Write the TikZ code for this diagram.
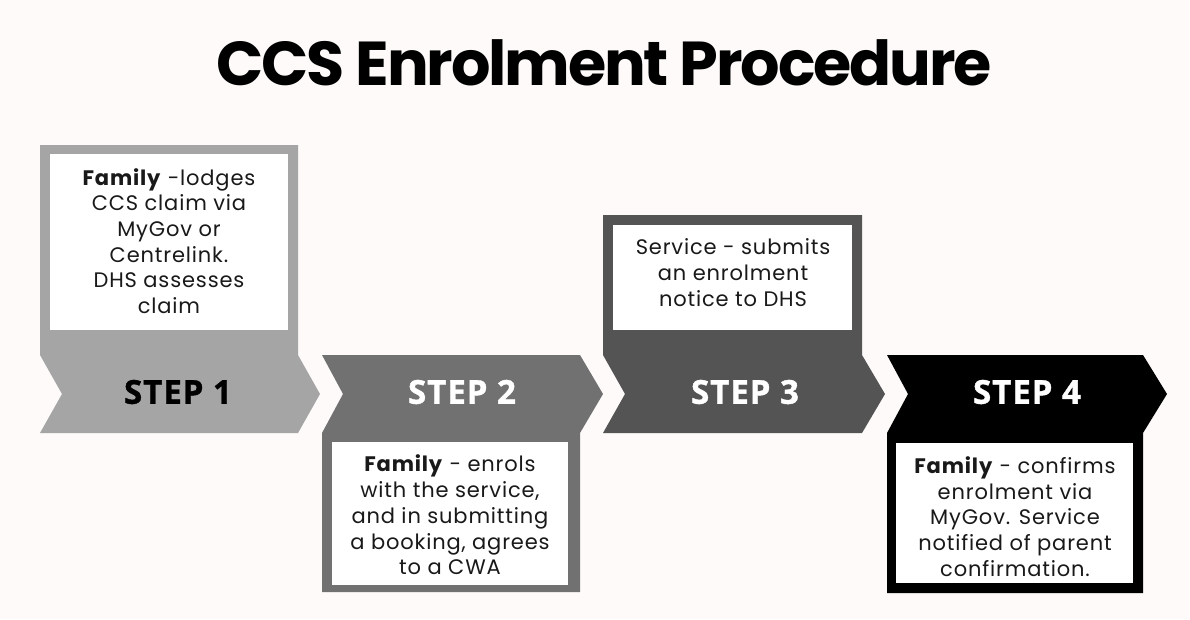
\documentclass[tikz,border=0pt]{standalone}
\usepackage{fontspec}
\setmainfont{Poppins}
\newfontfamily\titlefont[LetterSpace=-3.5]{Poppins}
\newfontfamily\bodyfont[LetterSpace=4]{Poppins}
\newfontfamily\stepfont[LetterSpace=3,FakeBold=1.2]{Open Sans}
\definecolor{bg}{RGB}{253,250,249}
\definecolor{stepA}{RGB}{165,165,165}
\definecolor{stepB}{RGB}{113,113,113}
\definecolor{stepC}{RGB}{84,84,84}
\definecolor{stepD}{RGB}{0,0,0}
\begin{document}
\begin{tikzpicture}[x=1pt,y=-1pt,
  whitebox/.style={fill=white,draw=none,inner sep=0pt},
  bodytext/.style={align=center,inner sep=0pt,text=black!90,font=\bodyfont\fontsize{21}{25.7}\selectfont},
  steplabel/.style={inner sep=0pt,font=\stepfont\bfseries\fontsize{33}{33}\selectfont}]
% page
\fill[bg] (0,0) rectangle (1190,619);
\useasboundingbox (0,0) rectangle (1190,619);

% title
\node[inner sep=0pt,font=\titlefont\bfseries\fontsize{62}{62}\selectfont] (title) at (604,63) {CCS Enrolment Procedure};

% step 1: panel above the arrow
\fill[stepA] (40,145) -- (298,145) -- (298,355) -- (320,394) -- (298,433)
  -- (40,433) -- (62,394) -- (40,355) -- cycle;
% step 2: panel below the arrow
\fill[stepB] (322,355) -- (580,355) -- (603,394) -- (580,433) -- (580,592)
  -- (322,592) -- (322,433) -- (343,394) -- cycle;
% step 3: panel above the arrow
\fill[stepC] (603,215) -- (862,215) -- (862,355) -- (885,394) -- (862,433)
  -- (603,433) -- (625,394) -- (603,355) -- cycle;
% step 4: panel below the arrow
\fill[stepD] (887,355) -- (1143,355) -- (1167,394) -- (1143,433) -- (1143,593)
  -- (887,593) -- (887,433) -- (908,394) -- cycle;

% white text boxes
\node[whitebox,minimum width=238pt,minimum height=176pt] (box1) at (169,242) {};
\node[whitebox,minimum width=236pt,minimum height=143pt] (box2) at (450,513.5) {};
\node[whitebox,minimum width=239pt,minimum height=105pt] (box3) at (732.5,277.5) {};
\node[whitebox,minimum width=237pt,minimum height=140pt] (box4) at (1014.5,513) {};

\node[bodytext] (text1) at (169,241) {\textbf{Family} -lodges\\CCS claim via\\MyGov or\\Centrelink.\\DHS assesses\\claim};
\node[bodytext] (text2) at (450,515) {\textbf{Family} - enrols\\with the service,\\and in submitting\\a booking, agrees\\to a CWA};
\node[bodytext] (text3) at (733,272.5) {Service - submits\\an enrolment\\notice to DHS};
\node[bodytext] (text4) at (1015,516.5) {\textbf{Family} - confirms\\enrolment via\\MyGov. Service\\notified of parent\\confirmation.};

% step labels
\node[steplabel,text=black] (step1) at (178,392) {STEP 1};
\node[steplabel,text=white] (step2) at (462,392) {STEP 2};
\node[steplabel,text=white] (step3) at (745,392) {STEP 3};
\node[steplabel,text=white] (step4) at (1027,392) {STEP 4};
\end{tikzpicture}
\end{document}
